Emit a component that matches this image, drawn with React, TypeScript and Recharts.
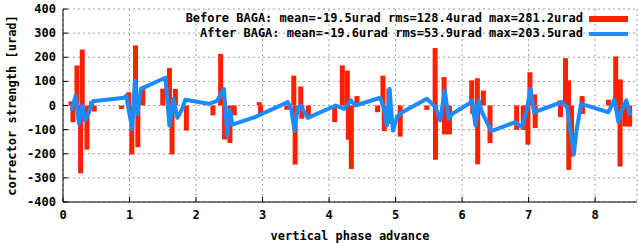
import React from "react";
import {
  ComposedChart,
  Bar,
  Line,
  XAxis,
  YAxis,
  CartesianGrid,
  Legend,
} from "recharts";

const FONT = '"DejaVu Sans Mono", monospace';
const RED = "#ff2000";
const BLUE = "#1a8cff";

// corrector kicks before correction (phase, urad)
const beforePhase = [
  0.12, 0.15, 0.21, 0.265, 0.29, 0.36, 0.43, 0.47, 0.88, 0.99, 1.035, 1.09,
  1.125, 1.2, 1.5, 1.6, 1.64, 1.69, 1.855, 2.255, 2.37, 2.43, 2.51, 2.575,
  2.95, 2.97, 3.365, 3.47, 3.49, 3.575, 3.59, 3.69, 4.085, 4.2, 4.275, 4.29,
  4.335, 4.42, 4.73, 4.81, 4.83, 4.9, 4.905, 5.07, 5.47, 5.595, 5.6, 5.73,
  5.735, 5.81, 6.145, 6.16, 6.23, 6.235, 6.32, 6.42, 6.82, 6.92, 6.99, 7.02,
  7.09, 7.1, 7.47, 7.48, 7.555, 7.6, 7.605, 7.645, 7.805, 7.81, 8.2, 8.31,
  8.375, 8.38, 8.45, 8.52,
];
const beforeKick = [
  17, -69, 166, -281, 232, -183, 17, -25, -14, 55, -203, 249,
  -173, 79, 70, 155, -203, 69, -104, -41, 214, -141, -155, -41,
  14, -41, -18, 124, -245, 79, -55, -41, -69, 166, 145, -142,
  -263, 39, -28, 124, -106, 69, -76, -129, -18, 238, -225, 118,
  -120, -120, 104, -35, 113, -244, 62, -156, -101, -101, -162, 138,
  46, -93, 21, -48, 196, 104, -267, -212, 39, -35, 24, 203,
  -253, 108, -87, -87,
];

// after correction
const afterPhase = [
  0.13, 0.19, 0.24, 0.29, 0.33, 0.38, 0.45, 0.92, 0.95, 0.99, 1.04, 1.08,
  1.12, 1.17, 1.54, 1.6, 1.66, 1.72, 1.78, 1.84, 2.19, 2.31, 2.42, 2.47,
  2.51, 2.545, 2.885, 3.38, 3.43, 3.48, 3.53, 3.57, 3.68, 4.1, 4.23, 4.33,
  4.395, 4.77, 4.82, 4.87, 4.91, 4.96, 5.02, 5.1, 5.47, 5.6, 5.67, 5.74,
  5.8, 5.85, 6.1, 6.15, 6.2, 6.25, 6.3, 6.44, 6.8, 6.9, 6.97, 7.03,
  7.08, 7.5, 7.58, 7.62, 7.68, 7.72, 7.79, 8.2, 8.29, 8.35, 8.4, 8.47,
  8.53,
];
const afterKick = [
  -21, 41, -76, 0, -62, -35, 18, 32, 41, -21, -97, 104,
  -35, 69, 115, -83, 28, -51, -21, 24, 7, 18, 69, -124,
  -18, -79, -48, 14, -14, -104, -10, 0, -51, 0, -14, 21,
  0, 32, -7, -83, 69, -104, -48, -28, 28, -7, -62, 62,
  -55, -35, 7, 21, -83, 21, -28, -106, -69, -90, -21, 69,
  -28, 14, -7, -90, -203, -104, 7, -28, 24, -69, -21, 21,
  -41,
];

const xTicks = [0, 1, 2, 3, 4, 5, 6, 7, 8];
const yTicks = [-400, -300, -200, -100, 0, 100, 200, 300, 400];

const beforeLabel = "Before BAGA: mean=-19.5urad rms=128.4urad max=281.2urad";
const afterLabel = "After BAGA: mean=-19.6urad rms=53.9urad max=203.5urad";

type Row = { phase: number; before?: number; after?: number };

const rowMap = new Map<number, Row>();
beforePhase.forEach((p, i) => {
  const r = rowMap.get(p) ?? { phase: p };
  r.before = beforeKick[i];
  rowMap.set(p, r);
});
afterPhase.forEach((p, i) => {
  const r = rowMap.get(p) ?? { phase: p };
  r.after = afterKick[i];
  rowMap.set(p, r);
});
const rows = [...rowMap.values()].sort((a, b) => a.phase - b.phase);

const textStyle = { fontFamily: FONT, fontSize: 12, fontWeight: 700, fill: "#000" };

// gnuplot style boxes: fixed width, centred on the corrector phase
function KickBox(props: any) {
  const { x, y, width, height } = props;
  if (x == null || y == null || height == null) return null;
  const cx = x + (width || 0) / 2;
  return (
    <rect
      x={cx - 2.5}
      y={Math.min(y, y + height)}
      width={5}
      height={Math.abs(height)}
      fill={RED}
    />
  );
}

function XTick({ x, y, payload }: any) {
  return (
    <g>
      <line x1={x} x2={x} y1={y} y2={y - 5} stroke="#000" />
      <text x={x} y={y + 17} textAnchor="middle" {...textStyle}>
        {payload.value}
      </text>
    </g>
  );
}

function YTick({ x, y, payload }: any) {
  return (
    <g>
      <line x1={x} x2={x + 5} y1={y} y2={y} stroke="#000" />
      <text x={x - 7} y={y + 4} textAnchor="end" {...textStyle}>
        {payload.value}
      </text>
    </g>
  );
}

function KeyBox({ payload }: any) {
  // boxes entry first, as in the gnuplot key
  const entries = [...(payload || [])].sort(
    (a: any, b: any) => (a.type === "rect" ? 0 : 1) - (b.type === "rect" ? 0 : 1)
  );
  return (
    <div
      style={{
        display: "flex",
        flexDirection: "column",
        alignItems: "flex-end",
        fontFamily: FONT,
        fontSize: 12,
        fontWeight: 700,
        color: "#000",
      }}
    >
      {entries.map((p: any) => (
        <div
          key={p.value}
          style={{ display: "flex", alignItems: "center", height: 15, lineHeight: "15px" }}
        >
          <span style={{ whiteSpace: "pre" }}>{p.value}</span>
          <span
            style={{
              display: "inline-block",
              width: 39,
              height: p.type === "rect" ? 6 : 4,
              background: p.color,
              marginLeft: 6,
            }}
          />
        </div>
      ))}
    </div>
  );
}

export default function App() {
  return (
    <div style={{ position: "absolute", left: 0, top: 0 }}>
      <ComposedChart
        width={638}
        height={243}
        data={rows}
        margin={{ top: 9, right: 1, bottom: 0, left: 0 }}
      >
        <CartesianGrid stroke="#a0a0a0" strokeDasharray="2 3" />
        <XAxis
          type="number"
          dataKey="phase"
          domain={[0, 8.63]}
          ticks={xTicks}
          allowDataOverflow
          height={41}
          tickSize={0}
          tickMargin={0}
          tick={<XTick />}
          axisLine={{ stroke: "#000" }}
          tickLine={false}
          label={{
            value: "vertical phase advance",
            position: "insideBottom",
            offset: 3,
            style: { ...textStyle },
          }}
        />
        <XAxis
          xAxisId="top"
          orientation="top"
          type="number"
          dataKey="phase"
          domain={[0, 8.63]}
          ticks={xTicks}
          allowDataOverflow
          height={0}
          mirror
          tickSize={5}
          tickFormatter={() => ""}
          axisLine={{ stroke: "#000" }}
          tickLine={{ stroke: "#000" }}
        />
        <YAxis
          type="number"
          domain={[-400, 400]}
          ticks={yTicks}
          width={63}
          tickSize={0}
          tickMargin={0}
          tick={<YTick />}
          axisLine={{ stroke: "#000" }}
          tickLine={false}
          label={{
            value: "corrector strength [urad]",
            angle: -90,
            position: "insideLeft",
            offset: 12,
            style: { ...textStyle, textAnchor: "middle" },
          }}
        />
        <YAxis
          yAxisId="right"
          orientation="right"
          type="number"
          domain={[-400, 400]}
          ticks={yTicks}
          width={0}
          mirror
          tickSize={5}
          tickFormatter={() => ""}
          axisLine={{ stroke: "#000" }}
          tickLine={{ stroke: "#000" }}
        />
        <Legend
          layout="vertical"
          align="center"
          verticalAlign="middle"
          content={<KeyBox />}
          wrapperStyle={{ left: 0, top: 11, width: 628 }}
        />
        <Bar
          dataKey="before"
          name={beforeLabel}
          fill={RED}
          legendType="rect"
          shape={<KickBox />}
          isAnimationActive={false}
        />
        <Line
          dataKey="after"
          name={afterLabel}
          type="linear"
          stroke={BLUE}
          strokeWidth={4}
          strokeLinejoin="round"
          dot={false}
          activeDot={false}
          connectNulls
          legendType="line"
          isAnimationActive={false}
        />
      </ComposedChart>
    </div>
  );
}
